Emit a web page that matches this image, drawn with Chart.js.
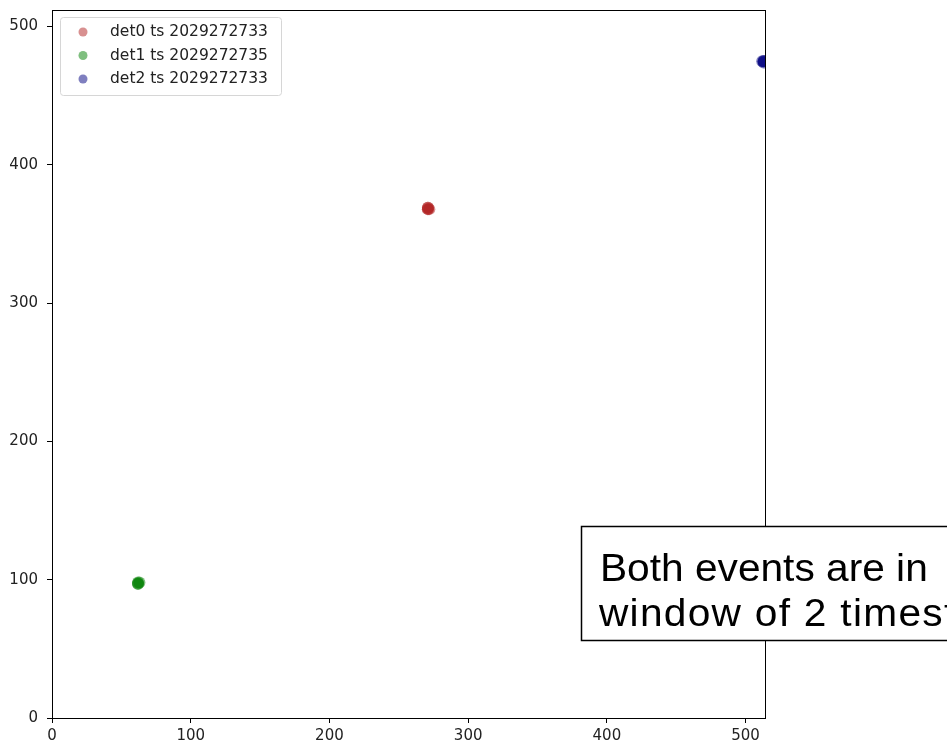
<!DOCTYPE html>
<html>
<head>
<meta charset="utf-8">
<script src="https://cdn.jsdelivr.net/npm/chart.js@4/dist/chart.umd.min.js"></script>
<style>
  html, body { margin: 0; padding: 0; background: #fff; overflow: hidden; }
  #wrap { width: 947px; height: 745px; position: relative; }
</style>
</head>
<body>
<div id="wrap"><canvas id="c" width="947" height="745"></canvas></div>
<script>
// Detector hit positions (pixel coordinates on a 512 x 512 sensor)
const det0Hits = [{x: 271, y: 368}, {x: 271, y: 369}, {x: 272, y: 368}, {x: 271, y: 368}, {x: 271, y: 369}];
const det1Hits = [{x: 62, y: 97}, {x: 62, y: 98}, {x: 62, y: 97}, {x: 63, y: 98}];
const det2Hits = [{x: 513, y: 475}, {x: 513, y: 474}, {x: 512, y: 475}, {x: 513, y: 475}];

const seriesLabels = ['det0 ts 2029272733', 'det1 ts 2029272735', 'det2 ts 2029272733'];
const seriesColors = ['rgba(178,34,34,0.5)', 'rgba(0,128,0,0.5)', 'rgba(0,0,128,0.5)'];

const xTicks = [0, 100, 200, 300, 400, 500];
const yTicks = [0, 100, 200, 300, 400, 500];
const xRange = [0, 514];
const yRange = [0, 512];

const noteLines = ['Both events are in', 'window of 2 timestamps'];

const FONT = '"DejaVu Sans", sans-serif';

// Frame, in-axes legend and the note box
const decorations = {
  id: 'decorations',
  afterDraw(chart) {
    const ctx = chart.ctx;
    const a = chart.chartArea;
    ctx.save();
    // full axes frame
    ctx.strokeStyle = '#000';
    ctx.lineWidth = 1;
    ctx.strokeRect(Math.round(a.left) + 0.5, Math.round(a.top) + 0.5,
                   Math.round(a.right - a.left), Math.round(a.bottom - a.top));

    // legend in the upper left corner
    const lx = a.left + 8, ly = a.top + 7, lw = 221, lh = 78;
    ctx.fillStyle = 'rgba(255,255,255,0.8)';
    ctx.strokeStyle = '#d6d6d6';
    ctx.lineWidth = 1;
    ctx.beginPath();
    ctx.roundRect(lx + 0.5, ly + 0.5, lw, lh, 3);
    ctx.fill();
    ctx.stroke();
    ctx.font = '15.5px ' + FONT;
    ctx.textBaseline = 'middle';
    chart.data.datasets.forEach((ds, i) => {
      const cy = ly + 15 + i * 23.5;
      ctx.fillStyle = ds.backgroundColor;
      ctx.beginPath();
      ctx.arc(lx + 23, cy, 4.5, 0, Math.PI * 2);
      ctx.fill();
      ctx.fillStyle = '#222';
      ctx.textAlign = 'left';
      ctx.fillText(ds.label, lx + 50, cy);
    });

    // note box overlapping the lower right
    const bx = 581, by = 526;
    ctx.fillStyle = '#fff';
    ctx.fillRect(bx, by, 400, 114);
    ctx.strokeStyle = '#000';
    ctx.lineWidth = 1.5;
    ctx.strokeRect(bx + 0.5, by + 0.5, 400, 114);
    ctx.fillStyle = '#000';
    ctx.font = '38px "Liberation Sans", Arial, sans-serif';
    ctx.textAlign = 'left';
    ctx.textBaseline = 'alphabetic';
    ctx.translate(600, 0);
    ctx.scale(1.07, 1);
    ctx.fillText(noteLines[0], 0, 581);
    ctx.letterSpacing = '1.2px';
    ctx.fillText(noteLines[1], -1, 626);
    ctx.restore();
  }
};

const datasets = [det0Hits, det1Hits, det2Hits].map((pts, i) => ({
  label: seriesLabels[i],
  data: pts,
  backgroundColor: seriesColors[i],
  borderWidth: 0,
  pointRadius: 6,
  pointHoverRadius: 6
}));

function axis(extra) {
  return Object.assign({
    type: 'linear',
    grid: { display: true, drawOnChartArea: false, drawTicks: true, tickLength: 5, color: '#000', lineWidth: 1 },
    border: { display: true, color: '#000', width: 1 }
  }, extra);
}

new Chart(document.getElementById('c'), {
  type: 'scatter',
  data: { datasets },
  options: {
    responsive: false,
    animation: false,
    events: [],
    layout: { padding: { left: 0, top: 10, right: 182, bottom: 0 } },
    plugins: { legend: { display: false }, tooltip: { enabled: false } },
    scales: {
      x: axis({
        min: xRange[0], max: xRange[1],
        ticks: { color: '#222', font: { family: FONT, size: 15 }, padding: 4, autoSkip: false, maxRotation: 0 },
        afterBuildTicks(s) { s.ticks = xTicks.map(v => ({ value: v })); },
        afterFit(s) { s.height = 27; s.paddingLeft = 0; s.paddingRight = 0; }
      }),
      y: axis({
        min: yRange[0], max: yRange[1],
        ticks: { color: '#222', font: { family: FONT, size: 15 }, padding: 9, autoSkip: false },
        afterBuildTicks(s) { s.ticks = yTicks.map(v => ({ value: v })); },
        afterFit(s) { s.width = 52; s.paddingTop = 0; s.paddingBottom = 0; }
      })
    }
  },
  plugins: [decorations]
});
</script>
</body>
</html>
